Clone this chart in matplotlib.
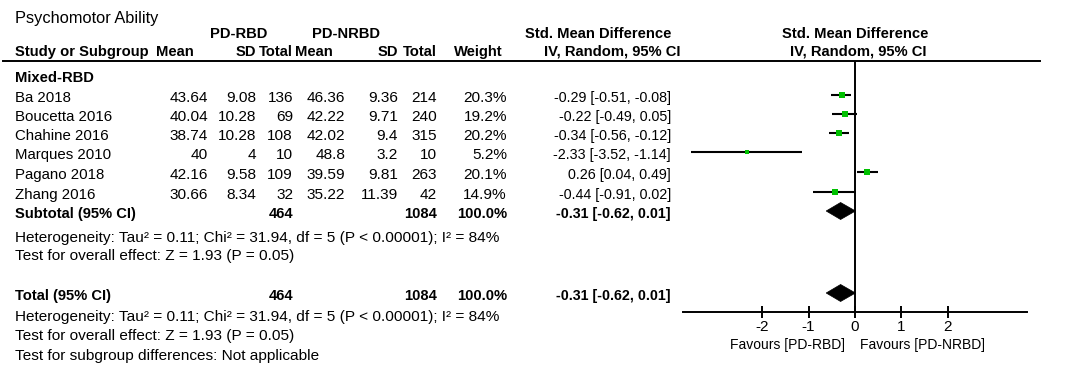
import numpy as np
import matplotlib
matplotlib.use('Agg')
import matplotlib.pyplot as plt
from matplotlib.patches import Polygon

plt.rcParams['font.family'] = ['Liberation Sans', 'DejaVu Sans']

# Dados do forest plot
estudos = ['Ba 2018', 'Boucetta 2016', 'Chahine 2016', 'Marques 2010', 'Pagano 2018', 'Zhang 2016']
rbd_media = [43.64, 40.04, 38.74, 40, 42.16, 30.66]
rbd_dp = [9.08, 10.28, 10.28, 4, 9.58, 8.34]
rbd_n = [136, 69, 108, 10, 109, 32]
nrbd_media = [46.36, 42.22, 42.02, 48.8, 39.59, 35.22]
nrbd_dp = [9.36, 9.71, 9.4, 3.2, 9.81, 11.39]
nrbd_n = [214, 240, 315, 10, 263, 42]
peso = [20.3, 19.2, 20.2, 5.2, 20.1, 14.9]
smd = [-0.29, -0.22, -0.34, -2.33, 0.26, -0.44]
ic_inf = [-0.51, -0.49, -0.56, -3.52, 0.04, -0.91]
ic_sup = [-0.08, 0.05, -0.12, -1.14, 0.49, 0.02]
combinado = [-0.31, -0.62, 0.01]
peso_total = 100.0
heterog = 'Heterogeneity: Tau² = 0.11; Chi² = 31.94, df = 5 (P < 0.00001); I² = 84%'
efeito = 'Test for overall effect: Z = 1.93 (P = 0.05)'
ticks = [-2, -1, 0, 1, 2]

W, H = 1084, 366
fig = plt.figure(figsize=(W / 100, H / 100), dpi=100)

# eixo de texto em coordenadas de pixel
tab = fig.add_axes([0, 0, 1, 1])
tab.set_xlim(0, W)
tab.set_ylim(H, 0)
tab.axis('off')

FS = 11.1      # texto normal
FS_B = 10.6    # cabeçalhos em negrito
FS_IC = 10.3   # coluna do IC
FS_EIXO = 10.0
x0 = 15
col_dir = [208, 256, 293, 345, 398, 437, 507, 671]


def txt(x, y, s, ha='left', bold=False, size=FS):
    tab.text(x, y + 5, s, ha=ha, va='baseline', fontsize=size,
             fontweight='bold' if bold else 'normal', color='black')


txt(x0, 18, 'Psychomotor Ability', size=11.8)
txt(239, 33, 'PD-RBD', ha='center', bold=True, size=FS_B)
txt(346, 33, 'PD-NRBD', ha='center', bold=True, size=FS_B)
txt(598, 33, 'Std. Mean Difference', ha='center', bold=True, size=FS_B)
txt(855, 33, 'Std. Mean Difference', ha='center', bold=True, size=FS_B)

txt(x0, 51, 'Study or Subgroup', bold=True, size=FS_B)
for x, s in zip([194, 256, 293, 333, 398, 437, 503], ['Mean', 'SD', 'Total', 'Mean', 'SD', 'Total', 'Weight']):
    txt(x, 51, s, ha='right', bold=True, size=FS_B)
txt(612, 51, 'IV, Random, 95% CI', ha='center', bold=True, size=FS_B)
txt(858, 51, 'IV, Random, 95% CI', ha='center', bold=True, size=FS_B)
tab.plot([3, 1040], [61, 61], color='black', lw=1.4)

txt(x0, 77, 'Mixed-RBD', bold=True, size=FS_B)
linhas_y = [97, 116, 135, 154, 174, 194]
for i, y in enumerate(linhas_y):
    txt(x0, y, estudos[i], size=10.8)
    vals = [f'{rbd_media[i]:g}', f'{rbd_dp[i]:g}', f'{rbd_n[i]}',
            f'{nrbd_media[i]:g}', f'{nrbd_dp[i]:g}', f'{nrbd_n[i]}',
            f'{peso[i]:.1f}%']
    for x, s in zip(col_dir, vals):
        txt(x, y, s, ha='right')
    txt(col_dir[7], y, f'{smd[i]:.2f} [{ic_inf[i]:.2f}, {ic_sup[i]:.2f}]', ha='right', size=FS_IC)

est, lo, hi = combinado
for y, rotulo in [(213, 'Subtotal (95% CI)'), (295, 'Total (95% CI)')]:
    txt(x0, y, rotulo, bold=True, size=FS_B)
    txt(col_dir[2], y, f'{sum(rbd_n)}', ha='right', bold=True, size=FS_B)
    txt(col_dir[5], y, f'{sum(nrbd_n)}', ha='right', bold=True, size=FS_B)
    txt(col_dir[6], y, f'{peso_total:.1f}%', ha='right', bold=True, size=FS_B)
    txt(col_dir[7], y, f'{est:.2f} [{lo:.2f}, {hi:.2f}]', ha='right', bold=True, size=FS_IC)

txt(x0, 237, heterog)
txt(x0, 255, efeito)
txt(x0, 316, heterog)
txt(x0, 335, efeito)
txt(x0, 355, 'Test for subgroup differences: Not applicable')

# forest plot
topo, base = 61, 312
ax = fig.add_axes([683 / W, 1 - base / H, (1027 - 683) / W, (base - topo) / H])
ax.set_xlim(-3.7, 3.7)
ax.set_ylim(base, topo)
ax.patch.set_alpha(0)
for lado in ['top', 'right', 'left']:
    ax.spines[lado].set_visible(False)
ax.spines['bottom'].set_linewidth(1.4)
ax.set_yticks([])
ax.set_xticks(ticks)
ax.set_xticklabels([f'{t}' for t in ticks])
ax.tick_params(axis='x', direction='inout', length=9, width=1.4, labelsize=11, pad=1)
ax.axvline(0, color='black', lw=1.4)

for i, y in enumerate(linhas_y):
    ym = y - 2
    ax.plot([ic_inf[i], ic_sup[i]], [ym, ym], color='black', lw=1.5, solid_capstyle='butt')
    ax.plot(smd[i], ym, marker='s', color='#00c000', markeredgewidth=0,
            markersize=4.6 * np.sqrt(peso[i] / 20.3))

for yd in [211, 293]:
    ax.add_patch(Polygon([(lo, yd), (est, yd - 8.5), (hi, yd), (est, yd + 8.5)],
                         closed=True, facecolor='black', edgecolor='black', lw=0.5))

txt(845, 344, 'Favours [PD-RBD]', ha='right', size=FS_EIXO)
txt(860, 344, 'Favours [PD-NRBD]', size=FS_EIXO)

fig.savefig('out.png', dpi=100)
